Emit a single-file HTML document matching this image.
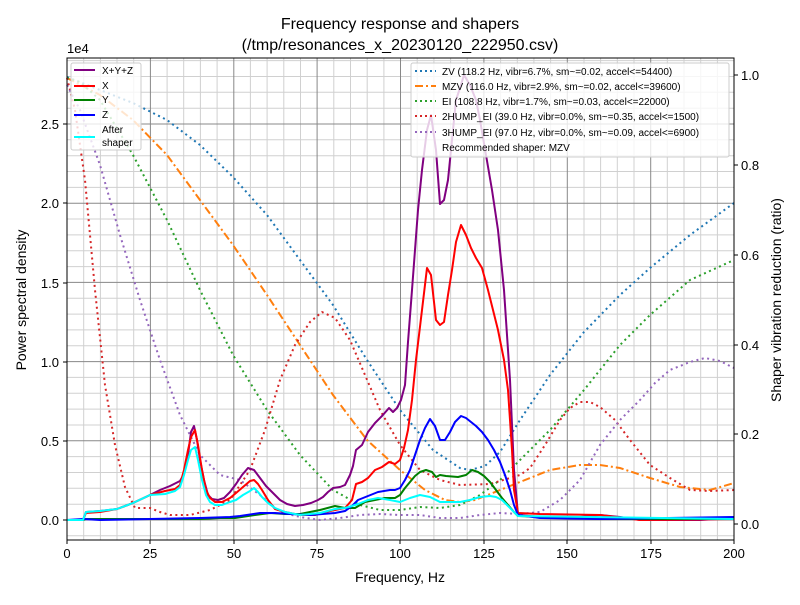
<!DOCTYPE html><html><head><style>body{margin:0;background:#fff}svg{font-family:"Liberation Sans","DejaVu Sans",sans-serif}</style></head><body>
<svg width="800" height="600" viewBox="0 0 800 600" xmlns="http://www.w3.org/2000/svg">
<rect width="800" height="600" fill="#fff"/>
<path stroke="#d0d0d0" stroke-width="1" fill="none" d="M83.7,58V540M100.4,58V540M117,58V540M133.7,58V540M167.1,58V540M183.7,58V540M200.4,58V540M217.1,58V540M250.4,58V540M267.1,58V540M283.8,58V540M300.5,58V540M333.8,58V540M350.5,58V540M367.2,58V540M383.9,58V540M417.2,58V540M433.9,58V540M450.6,58V540M467.2,58V540M500.6,58V540M517.3,58V540M533.9,58V540M550.6,58V540M584,58V540M600.6,58V540M617.3,58V540M634,58V540M667.3,58V540M684,58V540M700.7,58V540M717.4,58V540
M67,535.8H734M67,504.2H734M67,488.3H734M67,472.5H734M67,456.6H734M67,425H734M67,409.1H734M67,393.3H734M67,377.4H734M67,345.8H734M67,329.9H734M67,314.1H734M67,298.2H734M67,266.6H734M67,250.7H734M67,234.9H734M67,219H734M67,187.4H734M67,171.5H734M67,155.7H734M67,139.8H734M67,108.2H734M67,92.3H734M67,76.5H734M67,60.6H734"/>
<path stroke="#888" stroke-width="1" fill="none" d="M150.4,58V540M233.8,58V540M317.1,58V540M400.5,58V540M483.9,58V540M567.3,58V540M650.7,58V540M67,520H734M67,440.8H734M67,361.6H734M67,282.4H734M67,203.2H734M67,124H734"/>
<g fill="none" stroke-width="2" stroke-dasharray="2,3.5" stroke-linecap="butt">
<polyline stroke="#1f77b4" points="67,77 100,90 133,103 167,120 200,145 233,177 267,215 300,260 333,305 367,360 400,410 433,450 460,468 470,470 485,466 500,452 520,420 550,375 584,332 620,295 650,268 690,235 734,203"/>
<polyline stroke="#ff7f0e" stroke-dasharray="8,3,2,3" points="67,78 100,95 133,120 167,155 200,200 233,245 267,295 300,345 333,395 367,440 400,470 425,490 445,500 460,502 475,500 500,490 520,482 550,470 580,465 600,465 620,468 650,478 680,487 710,490 734,483"/>
<polyline stroke="#2ca02c" points="67,78 80,82 100,100 133,155 167,220 200,290 233,355 267,410 300,455 333,490 360,505 380,510 400,510 420,507 440,508 460,505 480,495 500,480 520,460 550,430 584,390 620,345 650,315 690,280 734,260"/>
<polyline stroke="#d62728" points="67,78 75,110 85,180 95,290 105,385 115,445 125,487 135,508 150,508 160,512 170,515 190,515 210,510 230,500 250,470 265,430 280,380 295,345 310,322 322,312 335,318 350,340 365,375 380,410 400,445 420,470 440,480 460,485 490,484 510,478 520,475 530,468 545,445 560,420 570,408 580,402 590,402 600,407 615,420 630,440 650,465 670,478 690,490 710,491 734,490"/>
<polyline stroke="#9467bd" points="67,85 80,110 100,165 120,235 140,300 160,360 180,415 200,455 220,475 240,480 260,495 280,512 300,517 320,520 340,518 360,515 380,514 400,515 420,515 440,518 460,518 480,515 500,513 520,514 540,512 560,500 580,480 600,445 620,420 640,400 655,383 670,370 690,362 705,358 720,361 734,368"/>
</g>
<g fill="none" stroke-width="2" stroke-linejoin="round">
<polyline stroke="#800080" points="67,520 83,520 86,512 100,511 117,509 133,503 150,495 160,490 170,486 180,481 184,474 188,455 191,432 194,426 197,440 200,460 204,480 208,495 212,499 218,500 224,498 230,492 236,484 242,475 248,468 254,470 260,478 266,486 273,493 280,500 287,504 295,506 303,505 311,503 318,500 323,497 328,492 333,488 340,487 345,485 350,475 353,466 356,450 362,445 368,432 375,423 382,416 389,408 393,412 397,408 401,400 405,385 408,342 412,290 418,210 422,170 427,130 431,115 436,150 440,204 444,200 448,180 452,140 456,100 460,88 464,75 470,85 476,100 480,120 486,155 492,190 498,230 504,290 510,380 514,470 518,515 540,517 580,517 600,515 620,517 640,520 700,520 734,518"/>
<polyline stroke="#ff0000" points="67,520 83,520 86,513 100,512 117,509 133,503 150,495 165,491 175,489 180,485 184,470 188,450 191,437 195,430 198,445 202,470 206,490 210,498 215,502 222,502 230,498 236,493 243,487 250,481 254,480 258,484 262,490 268,500 275,509 285,512 300,515 315,515 325,512 335,510 345,508 352,500 356,484 362,482 368,478 375,470 382,467 389,462 395,464 400,460 404,448 408,430 412,400 416,360 422,310 427,268 431,275 436,320 440,325 444,322 448,295 452,270 456,242 461,225 466,235 471,248 476,258 482,268 488,290 493,310 498,330 504,360 508,390 512,450 514,490 518,513 540,514 600,515 640,520 734,519"/>
<polyline stroke="#008000" points="67,520 83,520 86,519 200,519 220,518 235,518 255,515 270,513 285,514 300,514 320,510 335,506 345,508 355,508 365,502 375,500 385,498 395,498 400,495 405,488 410,482 415,476 420,472 426,470 432,472 436,477 440,475 446,476 458,477 466,475 472,470 478,472 484,476 490,482 496,490 502,498 508,505 514,512 518,516 600,519 734,519"/>
<polyline stroke="#0000ff" points="67,520 83,519 100,520 150,519 200,518 230,517 240,516 260,513 275,513 290,514 310,515 335,513 345,511 352,506 358,500 368,496 378,492 390,490 395,490 400,488 405,480 410,470 415,455 420,440 425,428 430,419 435,426 440,440 445,440 450,432 455,422 461,416 466,418 471,422 476,426 482,432 488,440 494,450 500,462 505,475 510,490 514,505 518,515 540,518 600,519 734,517"/>
<polyline stroke="#00ffff" points="67,520 83,520 86,512 100,511 117,509 133,503 150,495 165,494 175,491 180,487 184,475 188,460 191,450 195,447 198,460 202,480 206,495 210,502 215,505 222,505 230,502 236,500 243,495 250,491 254,488 258,492 262,497 268,503 275,508 285,512 300,515 320,513 335,509 345,508 352,506 358,504 368,500 378,498 390,500 400,502 410,498 420,495 430,497 440,502 460,502 470,500 480,497 490,496 496,497 502,500 508,506 514,512 518,516 734,519"/>
</g>
<rect x="67" y="58" width="667" height="482" fill="none" stroke="#000" stroke-width="1"/>
<g font-size="16" text-anchor="middle" fill="#000">
<text x="400" y="29">Frequency response and shapers</text>
<text x="400" y="50">(/tmp/resonances_x_20230120_222950.csv)</text>
<text x="400" y="582" font-size="14">Frequency, Hz</text>
</g>
<g font-size="13" text-anchor="middle">
<text x="67" y="558">0</text><text x="150" y="558">25</text><text x="234" y="558">50</text><text x="317" y="558">75</text><text x="400" y="558">100</text><text x="484" y="558">125</text><text x="567" y="558">150</text><text x="651" y="558">175</text><text x="734" y="558">200</text>
</g>
<g stroke="#000"><line x1="67" y1="540" x2="67" y2="544"/><line x1="150" y1="540" x2="150" y2="544"/><line x1="234" y1="540" x2="234" y2="544"/><line x1="317" y1="540" x2="317" y2="544"/><line x1="400" y1="540" x2="400" y2="544"/><line x1="484" y1="540" x2="484" y2="544"/><line x1="567" y1="540" x2="567" y2="544"/><line x1="651" y1="540" x2="651" y2="544"/><line x1="734" y1="540" x2="734" y2="544"/>
<line x1="63" y1="520" x2="67" y2="520"/><line x1="63" y1="441" x2="67" y2="441"/><line x1="63" y1="362" x2="67" y2="362"/><line x1="63" y1="283" x2="67" y2="283"/><line x1="63" y1="203" x2="67" y2="203"/><line x1="63" y1="124" x2="67" y2="124"/>
<line x1="734" y1="524" x2="738" y2="524"/><line x1="734" y1="434" x2="738" y2="434"/><line x1="734" y1="345" x2="738" y2="345"/><line x1="734" y1="255" x2="738" y2="255"/><line x1="734" y1="165" x2="738" y2="165"/><line x1="734" y1="75" x2="738" y2="75"/></g>
<g font-size="13" text-anchor="end">
<text x="59" y="525">0.0</text><text x="59" y="446">0.5</text><text x="59" y="367">1.0</text><text x="59" y="288">1.5</text><text x="59" y="208">2.0</text><text x="59" y="129">2.5</text>
</g>
<text x="67" y="53" font-size="13">1e4</text>
<g font-size="13">
<text x="741" y="529">0.0</text><text x="741" y="439">0.2</text><text x="741" y="350">0.4</text><text x="741" y="260">0.6</text><text x="741" y="170">0.8</text><text x="741" y="80">1.0</text>
</g>
<text transform="translate(26,300) rotate(-90)" font-size="14" text-anchor="middle">Power spectral density</text>
<text transform="translate(781,300) rotate(-90)" font-size="14" text-anchor="middle">Shaper vibration reduction (ratio)</text>
<g>
<rect x="71" y="63" width="70" height="87" rx="2" fill="#fff" fill-opacity="0.8" stroke="#ccc"/>
<g stroke-width="2"><line x1="74" y1="70" x2="95" y2="70" stroke="#800080"/><line x1="74" y1="86" x2="95" y2="86" stroke="#f00"/><line x1="74" y1="100" x2="95" y2="100" stroke="#008000"/><line x1="74" y1="115" x2="95" y2="115" stroke="#00f"/><line x1="74" y1="137" x2="95" y2="137" stroke="#0ff"/></g>
<g font-size="10"><text x="102" y="74">X+Y+Z</text><text x="102" y="89">X</text><text x="102" y="103">Y</text><text x="102" y="118">Z</text><text x="102" y="133">After</text><text x="102" y="146">shaper</text></g>
<rect x="411" y="63" width="318" height="94" rx="2" fill="#fff" fill-opacity="0.8" stroke="#ccc"/>
<g stroke-width="2" stroke-dasharray="2,3"><line x1="415" y1="71" x2="436" y2="71" stroke="#1f77b4"/><line x1="415" y1="86" x2="436" y2="86" stroke="#ff7f0e" stroke-dasharray="8,3,2,3"/><line x1="415" y1="101" x2="436" y2="101" stroke="#2ca02c"/><line x1="415" y1="116" x2="436" y2="116" stroke="#d62728"/><line x1="415" y1="132" x2="436" y2="132" stroke="#9467bd"/></g>
<g font-size="10"><text x="442" y="75">ZV (118.2 Hz, vibr=6.7%, sm~=0.02, accel&lt;=54400)</text><text x="442" y="90">MZV (116.0 Hz, vibr=2.9%, sm~=0.02, accel&lt;=39600)</text><text x="442" y="105">EI (108.8 Hz, vibr=1.7%, sm~=0.03, accel&lt;=22000)</text><text x="442" y="120">2HUMP_EI (39.0 Hz, vibr=0.0%, sm~=0.35, accel&lt;=1500)</text><text x="442" y="136">3HUMP_EI (97.0 Hz, vibr=0.0%, sm~=0.09, accel&lt;=6900)</text><text x="442" y="151">Recommended shaper: MZV</text></g>
</g>
</svg></body></html>
